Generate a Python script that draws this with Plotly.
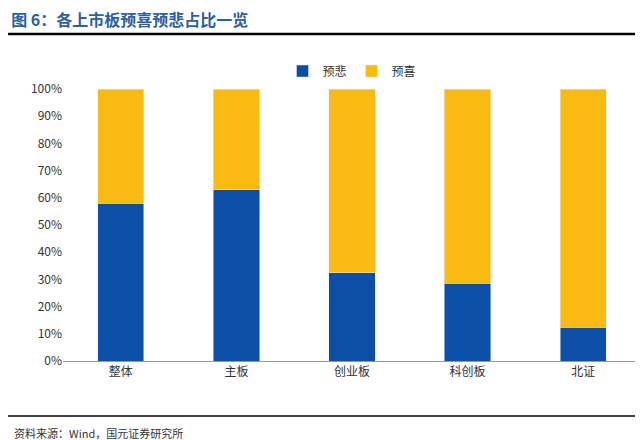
import plotly.graph_objects as go

categories = ["整体", "主板", "创业板", "科创板", "北证"]
bei = [58, 63, 32.5, 28.5, 12.5]
xi = [42, 37, 67.5, 71.5, 87.5]

fig = go.Figure()
fig.add_bar(x=categories, y=bei, name="预悲", marker_color="#0D4EA6")
fig.add_bar(x=categories, y=xi, name="预喜", marker_color="#F9BA11")
fig.update_layout(
    barmode="stack", bargap=0.6, width=643, height=440,
    paper_bgcolor="white", plot_bgcolor="white",
    margin=dict(l=55, r=10, t=81, b=87, autoexpand=False),
    font=dict(family="Noto Sans CJK SC", size=12, color="#333"),
    legend=dict(orientation="h", traceorder="normal", x=0.5, xanchor="center", y=1.066, yanchor="middle", font=dict(size=12)),
    yaxis=dict(range=[0, 100], dtick=10, ticksuffix="%", showgrid=False, showline=False, ticks=""),
    xaxis=dict(showline=True, linecolor="#999", ticks=""),
    title=dict(text="<b>图 6：各上市板预喜预悲占比一览</b>", x=0.005, xanchor="left", y=0.985, yanchor="top",
               font=dict(size=16, color="#2E5F9E")),
    shapes=[
        dict(type="line", xref="paper", yref="paper", x0=-0.095, x1=1.0, y0=1.202, y1=1.202, line=dict(color="black", width=2.5)),
        dict(type="line", xref="paper", yref="paper", x0=-0.095, x1=1.0, y0=-0.202, y1=-0.202, line=dict(color="black", width=1.5)),
    ],
    annotations=[dict(text="资料来源：Wind，国元证券研究所", xref="paper", yref="paper", x=-0.088, xanchor="left",
                      y=-0.265, yanchor="middle", showarrow=False, font=dict(size=11, color="#333"))],
)
fig.write_html("out.html")
